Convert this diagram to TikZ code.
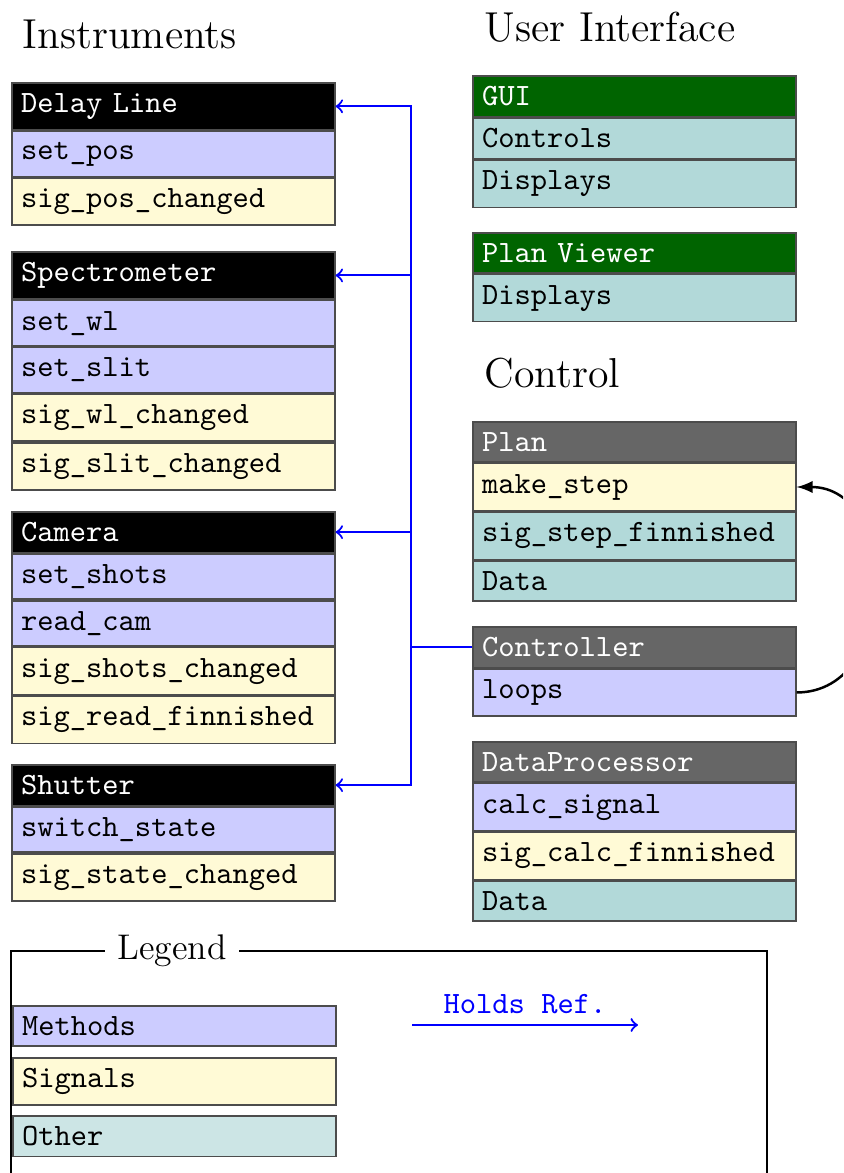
\documentclass[tikz,border=0pt]{standalone}
\usepackage{fontspec}
\usetikzlibrary{positioning}
\definecolor{sigyellow}{RGB}{255,250,214}
\definecolor{uigreen}{RGB}{0,100,0}

\begin{document}
\begin{tikzpicture}[x=0.3226pt,y=-0.3226pt]
		\tikzstyle{classrow}=[draw=black!70,line width=0.5pt,minimum width=104.2pt,text width=98.2pt,inner xsep=3pt,inner ysep=3.4pt,align=left,font=\fontsize{10}{12}\ttfamily]
		\tikzstyle{insthead}=[classrow,anchor=north west,fill=black,text=white]
		\tikzstyle{uihead}=[insthead,fill=uigreen]
		\tikzstyle{ctrlhead}=[insthead,fill=black!60]
		\tikzstyle{methodrow}=[classrow,fill=blue!20]
		\tikzstyle{signalrow}=[classrow,fill=sigyellow]
		\tikzstyle{otherrow}=[classrow,fill=teal!30]
		\tikzstyle{heading}=[anchor=base west,inner sep=0pt,font=\fontsize{13.5}{16}\selectfont]
		\tikzstyle{holdsref}=[blue,line width=0.7pt]

		\clip (0,0) rectangle (843,1173);

			% Section titles
		\node[heading] (instr) at (22,48) {Instruments};
		\node[heading] (ui) at (484,41) {User Interface};
		\node[heading] (ctl) at (484,387) {Control};

			% Draw the instruments
		\node[insthead] (dl) at (11,82) {Delay Line};
		\node[methodrow,below=0pt of dl] (dl-1) {set\_pos};
		\node[signalrow,below=0pt of dl-1] (dl-2) {sig\_pos\_changed};

		\node[insthead] (spec) at (11,251) {Spectrometer};
		\node[methodrow,below=0pt of spec] (spec-1) {set\_wl};
		\node[methodrow,below=0pt of spec-1] (spec-2) {set\_slit};
		\node[signalrow,below=0pt of spec-2] (spec-3) {sig\_wl\_changed};
		\node[signalrow,below=0pt of spec-3] (spec-4) {sig\_slit\_changed};

		\node[insthead] (cam) at (11,511) {Camera};
		\node[methodrow,below=0pt of cam] (cam-1) {set\_shots};
		\node[methodrow,below=0pt of cam-1] (cam-2) {read\_cam};
		\node[signalrow,below=0pt of cam-2] (cam-3) {sig\_shots\_changed};
		\node[signalrow,below=0pt of cam-3] (cam-4) {sig\_read\_finnished};

		\node[insthead] (shut) at (11,764) {Shutter};
		\node[methodrow,below=0pt of shut] (shut-1) {switch\_state};
		\node[signalrow,below=0pt of shut-1] (shut-2) {sig\_state\_changed};

			% Draw the user interface
		\node[uihead] (gui) at (472,75) {GUI};
		\node[otherrow,below=0pt of gui] (gui-1) {Controls};
		\node[otherrow,below=0pt of gui-1] (gui-2) {Displays};

		\node[uihead] (pv) at (472,232) {Plan Viewer};
		\node[otherrow,below=0pt of pv] (pv-1) {Displays};

			% Draw the control part
		\node[ctrlhead] (plan) at (472,421) {Plan};
		\node[signalrow,below=0pt of plan] (plan-1) {make\_step};
		\node[otherrow,below=0pt of plan-1] (plan-2) {sig\_step\_finnished};
		\node[otherrow,below=0pt of plan-2] (plan-3) {Data};

		\node[ctrlhead] (ctrl) at (472,626) {Controller};
		\node[methodrow,below=0pt of ctrl] (ctrl-1) {loops};

		\node[ctrlhead] (dp) at (472,741) {DataProcessor};
		\node[methodrow,below=0pt of dp] (dp-1) {calc\_signal};
		\node[signalrow,below=0pt of dp-1] (dp-2) {sig\_calc\_finnished};
		\node[otherrow,below=0pt of dp-2] (dp-3) {Data};

			% The controller holds a reference to every instrument
		\path (ctrl.west) ++(-61,0) coordinate (bus);
		\draw[holdsref] (ctrl.west) -- (bus);
		\foreach \dest in {dl,spec,cam,shut}
		\draw[holdsref,->] (bus) |- (\dest.east);

		\draw[-latex,line width=0.8pt] (ctrl-1.east) to[out=0,in=0,looseness=1.3] (plan-1.east);

			% Legend
		\draw[line width=0.5pt] (11,951) rectangle (767,1200);
		\node[fill=white,inner xsep=4pt,font=\fontsize{11.5}{14}\selectfont] (legend) at (172,951) {Legend};
		\node[methodrow,anchor=north west] (lg-m) at (12,1005) {Methods};
		\node[signalrow,anchor=north west] (lg-s) at (12,1057) {Signals};
		\node[otherrow,anchor=north west,fill=teal!20] (lg-o) at (12,1115) {Other};
		\coordinate (hr-a) at (412,1025);
		\coordinate (hr-b) at (638,1025);
		\draw[holdsref,->] (hr-a) -- (hr-b) node[midway,above,font=\fontsize{10}{12}\ttfamily] {Holds Ref.};
\end{tikzpicture}
\end{document}
